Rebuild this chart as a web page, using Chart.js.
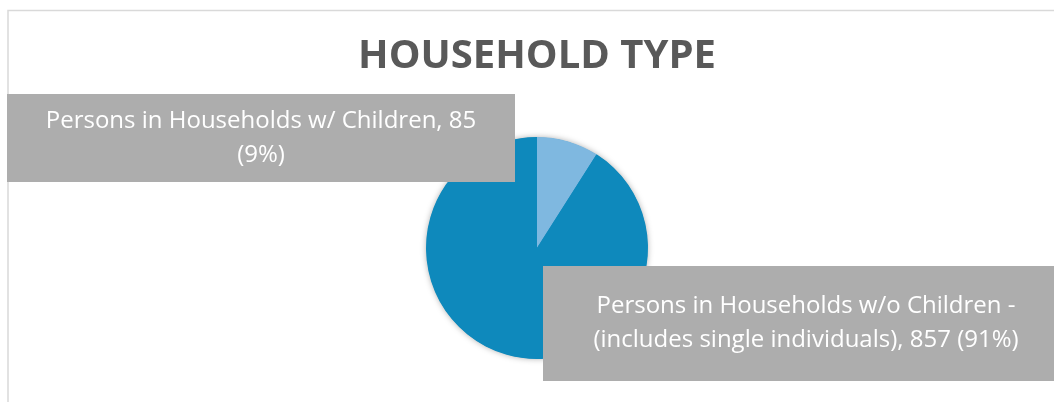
<!DOCTYPE html>
<html>
<head>
<meta charset="utf-8">
<script src="https://cdn.jsdelivr.net/npm/chart.js@4.4.0/dist/chart.umd.js"></script>
<style>
  html, body { margin: 0; padding: 0; background: #fff; }
  #wrap { position: relative; width: 1054px; height: 402px; }
</style>
</head>
<body>
<div id="wrap"><canvas id="chart" width="1054" height="402"></canvas></div>
<script>
const categories = [
  'Persons in Households w/ Children',
  'Persons in Households w/o Children - (includes single individuals)'
];
const values = [85, 857];
const sliceColors = ['#7fb8e0', '#0e89bc'];
const chartTitle = 'HOUSEHOLD TYPE';

const FONT = "'Open Sans', 'Noto Sans', sans-serif";

// label callout boxes, one per slice (box geometry + wrapped lines)
const calloutBoxes = [
  { x: 7, y: 94, w: 508, h: 88, lines: [categories[0] + ', ' + values[0], '(9%)'] },
  { x: 543, y: 266, w: 526, h: 115, lines: ['Persons in Households w/o Children -', '(includes single individuals), ' + values[1] + ' (91%)'] }
];

const frameAndTitle = {
  id: 'frameAndTitle',
  beforeDraw(chart) {
    const ctx = chart.ctx;
    ctx.save();
    ctx.fillStyle = '#fff';
    ctx.fillRect(0, 0, chart.width, chart.height);
    ctx.strokeStyle = '#d9d9d9';
    ctx.lineWidth = 1.5;
    ctx.beginPath();
    ctx.moveTo(8, chart.height);
    ctx.lineTo(8, 10.5);
    ctx.lineTo(chart.width, 10.5);
    ctx.stroke();
    ctx.fillStyle = '#595959';
    ctx.font = "bold 40px " + FONT;
    ctx.textAlign = 'center';
    ctx.textBaseline = 'middle';
    ctx.fillText(chartTitle, 537, 57);
    ctx.restore();
  }
};

const pieShadow = {
  id: 'pieShadow',
  beforeDatasetsDraw(chart) {
    const ctx = chart.ctx;
    const arc = chart.getDatasetMeta(0).data[0];
    ctx.save();
    ctx.shadowColor = 'rgba(0,0,0,0.35)';
    ctx.shadowBlur = 6;
    ctx.fillStyle = '#0e89bc';
    ctx.beginPath();
    ctx.arc(arc.x, arc.y, arc.outerRadius - 0.5, 0, Math.PI * 2);
    ctx.fill();
    ctx.restore();
  }
};

const callouts = {
  id: 'callouts',
  afterDatasetsDraw(chart) {
    const ctx = chart.ctx;
    ctx.save();
    calloutBoxes.forEach(b => {
      ctx.fillStyle = '#adadad';
      ctx.fillRect(b.x, b.y, b.w, b.h);
      ctx.fillStyle = '#ffffff';
      ctx.font = "24px " + FONT;
      ctx.textAlign = 'center';
      ctx.textBaseline = 'middle';
      const cx = b.x + b.w / 2;
      const lh = 34;
      const y0 = b.y + b.h / 2 - (b.lines.length - 1) * lh / 2;
      b.lines.forEach((t, i) => ctx.fillText(t, cx, y0 + i * lh));
    });
    ctx.restore();
  }
};

new Chart(document.getElementById('chart'), {
  type: 'pie',
  data: {
    labels: categories,
    datasets: [{
      data: values,
      backgroundColor: sliceColors,
      borderWidth: 0
    }]
  },
  options: {
    responsive: false,
    animation: false,
    layout: { padding: { top: 137, bottom: 43, left: 20, right: 0 } },
    plugins: {
      legend: { display: false },
      tooltip: { enabled: false },
      title: { display: false }
    }
  },
  plugins: [frameAndTitle, pieShadow, callouts]
});
</script>
</body>
</html>
